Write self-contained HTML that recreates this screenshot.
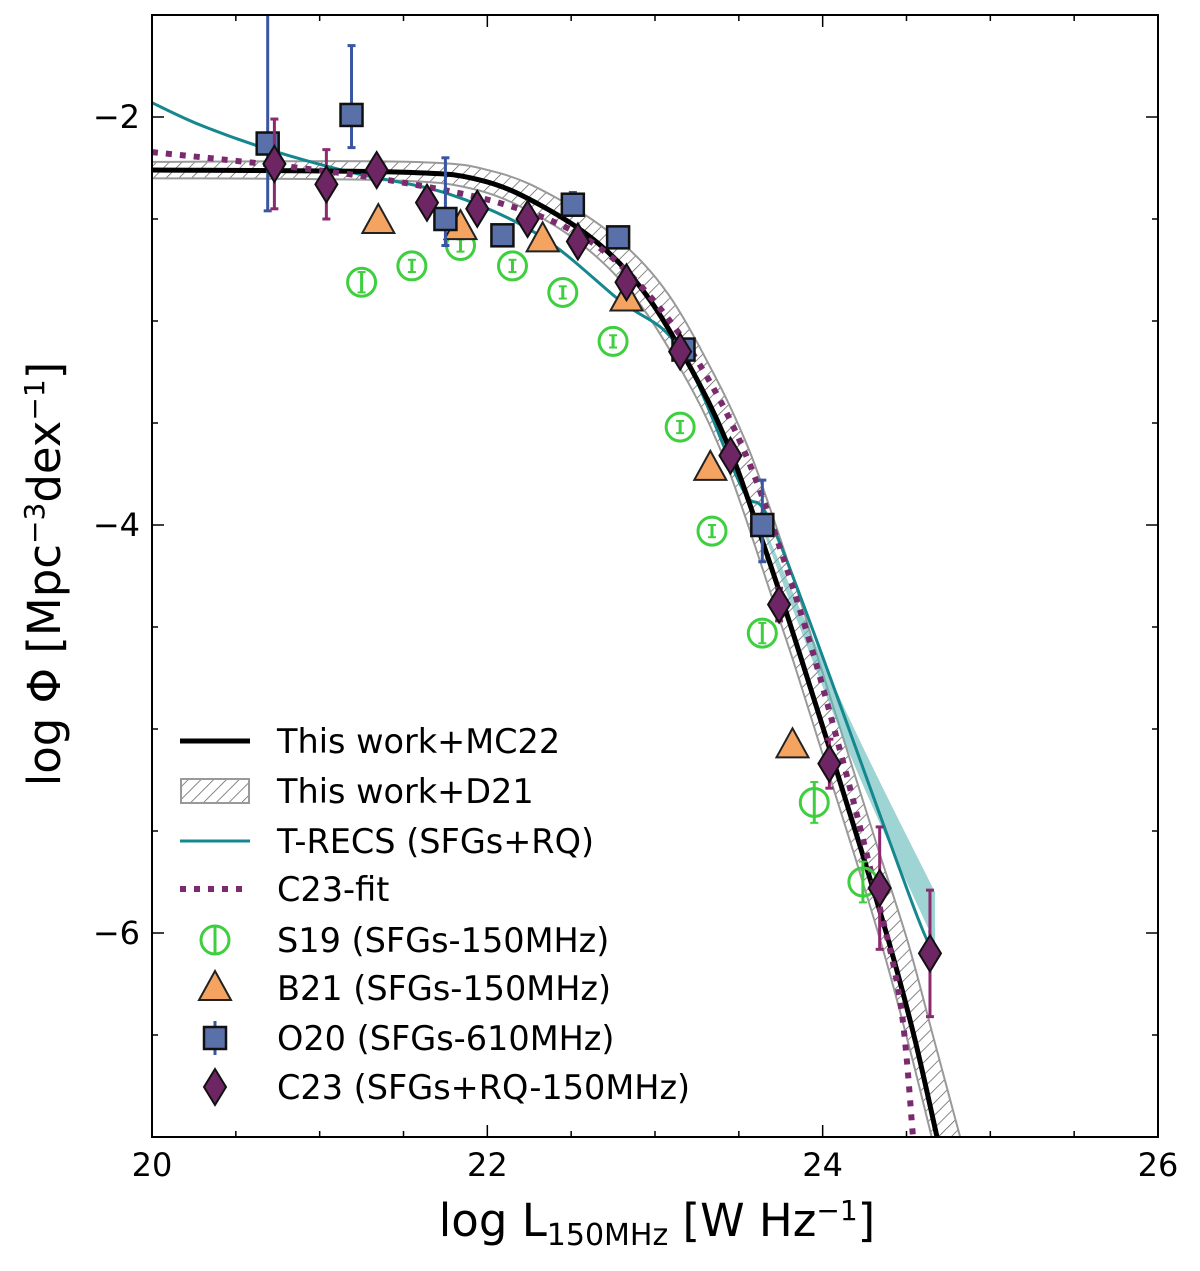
<!DOCTYPE html>
<html><head><meta charset="utf-8"><style>
body{margin:0;background:#fff}
svg text{font-family:"DejaVu Sans","Liberation Sans",sans-serif;fill:#000}
</style></head><body>
<svg id="chart" width="1200" height="1266" viewBox="0 0 1200 1266" xmlns="http://www.w3.org/2000/svg">
<defs>
<pattern id="hatch" patternUnits="userSpaceOnUse" width="9" height="9" patternTransform="rotate(45)">
<line x1="0" y1="0" x2="0" y2="9" stroke="#555" stroke-width="1.4"/>
</pattern>
<clipPath id="plotclip"><rect x="152" y="15" width="1006" height="1122"/></clipPath>
</defs>
<g id="plot" clip-path="url(#plotclip)"></g>
<g id="axes"></g>
<g id="legend"></g>
</svg>
<script>
const s19X=[21.25,21.55,21.84,22.15,22.45,22.75,23.15,23.34,23.64,23.95,24.24];
const s19Y=[-2.81,-2.73,-2.63,-2.73,-2.86,-3.10,-3.52,-4.03,-4.53,-5.36,-5.75];
const s19E=[0.05,0.03,0.03,0.03,0.03,0.03,0.03,0.03,0.05,0.1,0.1];
const b21X=[21.35,21.84,22.33,22.83,23.33,23.82];
const b21Y=[-2.51,-2.54,-2.60,-2.89,-3.72,-5.08];
const o20X=[20.69,21.19,21.75,22.09,22.51,22.78,23.17,23.64];
const o20Y=[-2.13,-1.99,-2.50,-2.58,-2.43,-2.59,-3.14,-4.0];
const o20Up=[0.8,0.34,0.3,0.05,0.06,0.03,0.04,0.22];
const o20Dn=[0.33,0.16,0.13,0.05,0.04,0.03,0.04,0.18];
const c23X=[20.73,21.04,21.34,21.64,21.94,22.24,22.54,22.83,23.15,23.45,23.74,24.04,24.34,24.64];
const c23Y=[-2.23,-2.33,-2.26,-2.42,-2.45,-2.50,-2.61,-2.81,-3.15,-3.66,-4.39,-5.17,-5.78,-6.10];
const c23E=[0.22,0.17,0.05,0.05,0.04,0.04,0.04,0.04,0.05,0.06,0.08,0.12,0.3,0.31];
const mcX=[20,21.479,21.956,22.314,22.672,22.970,23.268,23.447,23.567,23.739,23.865,24.044,24.223,24.402,24.551,24.682];
const mcY=[-2.26,-2.27,-2.309,-2.431,-2.627,-2.897,-3.314,-3.632,-3.902,-4.319,-4.637,-5.103,-5.574,-6.064,-6.525,-7.0];
const d21UpX=[20,21.55,22.05,22.42,22.78,23.08,23.37,23.55,23.67,23.84,23.96,24.14,24.32,24.51,24.66,24.82];
const d21UpY=[-2.22,-2.22,-2.27,-2.40,-2.60,-2.87,-3.29,-3.61,-3.88,-4.30,-4.62,-5.09,-5.56,-6.05,-6.51,-7.0];
const d21LoX=[20,21.4,21.9,22.27,22.63,22.93,23.23,23.41,23.53,23.70,23.83,24.01,24.19,24.37,24.52,24.65];
const d21LoY=[-2.30,-2.31,-2.35,-2.47,-2.67,-2.94,-3.35,-3.67,-3.94,-4.36,-4.68,-5.15,-5.62,-6.11,-6.57,-7.0];
const trX=[20,20.29,20.70,21.18,21.78,22.31,22.79,23.15,23.52,23.75,24.56,24.64];
const trY=[-1.93,-2.04,-2.16,-2.27,-2.38,-2.58,-2.90,-3.14,-3.82,-4.10,-5.91,-5.99];
const trBX=[23.63,24.16,24.67];
const trBUp=[-3.97,-4.95,-5.80];
const trBLo=[-4.00,-5.12,-6.05];
const fitX=[20,20.883,21.479,22.076,22.553,22.911,23.268,23.567,23.865,24.103,24.300,24.461,24.539];
const fitY=[-2.172,-2.25,-2.319,-2.422,-2.578,-2.824,-3.216,-3.706,-4.417,-5.103,-5.74,-6.328,-7.0];
const xTicks=[20,22,24,26];
const yTicks=[-2,-4,-6];

const NS="http://www.w3.org/2000/svg";
const X0=152,X1=1158,Y0=15,Y1=1137;
const sx=v=>X0+(v-20)/6*(X1-X0);
const sy=v=>117+(-2-v)*204;
function mk(tag,attrs,parent){const e=document.createElementNS(NS,tag);for(const k in attrs)e.setAttribute(k,attrs[k]);parent.appendChild(e);return e;}
const plot=document.getElementById('plot'),axes=document.getElementById('axes'),leg=document.getElementById('legend');
function smooth(xs,ys,cont){const p=xs.map((x,i)=>[sx(x),sy(ys[i])]);let d=(cont?'L':'M')+p[0][0]+','+p[0][1];
 for(let i=0;i<p.length-1;i++){const p0=p[Math.max(0,i-1)],p1=p[i],p2=p[i+1],p3=p[Math.min(p.length-1,i+2)];
  const c1=[p1[0]+(p2[0]-p0[0])/6,p1[1]+(p2[1]-p0[1])/6],c2=[p2[0]-(p3[0]-p1[0])/6,p2[1]-(p3[1]-p1[1])/6];
  d+=' C'+c1[0]+','+c1[1]+' '+c2[0]+','+c2[1]+' '+p2[0]+','+p2[1];}
 return d;}
const rev=a=>a.slice().reverse();

let band=mk('path',{d:smooth(d21UpX,d21UpY)+' '+smooth(rev(d21LoX),rev(d21LoY),true)+'Z',fill:'url(#hatch)',stroke:'#999','stroke-width':2},plot);


let tb=mk('path',{d:smooth(trBX,trBUp)+' '+smooth(rev(trBX),rev(trBLo),true)+'Z',fill:'#5fb8b8','fill-opacity':0.6,stroke:'none'},plot);


let tl=mk('path',{d:smooth(trX,trY),fill:'none',stroke:'#15878f','stroke-width':3},plot);


let ml=mk('path',{d:smooth(mcX,mcY),fill:'none',stroke:'#000','stroke-width':5},plot);


let fl=mk('path',{d:smooth(fitX,fitY),fill:'none',stroke:'#7b2a6e','stroke-width':6,'stroke-dasharray':'6,8'},plot);



s19X.forEach((x,i)=>{const cx=sx(x),cy=sy(s19Y[i]);
 const g=mk('g',{},plot);
 
 
 mk('circle',{cx,cy,r:14,fill:'none',stroke:'#3ecf3e','stroke-width':3},g);
 const e=s19E[i]*204;
 mk('line',{x1:cx,x2:cx,y1:cy-e,y2:cy+e,stroke:'#3ecf3e','stroke-width':3},g);
 mk('line',{x1:cx-4,x2:cx+4,y1:cy-e,y2:cy-e,stroke:'#3ecf3e','stroke-width':2},g);
 mk('line',{x1:cx-4,x2:cx+4,y1:cy+e,y2:cy+e,stroke:'#3ecf3e','stroke-width':2},g);
});
b21X.forEach((x,i)=>{const cx=sx(x),cy=sy(b21Y[i]);
 const t=mk('polygon',{points:`${cx},${cy-17} ${cx-16},${cy+12} ${cx+16},${cy+12}`,fill:'#f4a460',stroke:'#222','stroke-width':2},plot);
 
 
});
o20X.forEach((x,i)=>{const cx=sx(x),cy=sy(o20Y[i]);
 const g=mk('g',{},plot);
 
 
 const u=o20Up[i]*204,d=o20Dn[i]*204;
 mk('line',{x1:cx,x2:cx,y1:cy-u,y2:cy+d,stroke:'#3a56a0','stroke-width':3},g);
 mk('line',{x1:cx-4,x2:cx+4,y1:cy-u,y2:cy-u,stroke:'#3a56a0','stroke-width':3},g);
 mk('line',{x1:cx-4,x2:cx+4,y1:cy+d,y2:cy+d,stroke:'#3a56a0','stroke-width':3},g);
 mk('rect',{x:cx-11,y:cy-11,width:22,height:22,fill:'#5a70a8',stroke:'#111','stroke-width':2.5},g);
});
c23X.forEach((x,i)=>{const cx=sx(x),cy=sy(c23Y[i]);
 const g=mk('g',{},plot);
 
 
 const e=c23E[i]*204;
 mk('line',{x1:cx,x2:cx,y1:cy-e,y2:cy+e,stroke:'#8b2a6e','stroke-width':3},g);
 mk('line',{x1:cx-4,x2:cx+4,y1:cy-e,y2:cy-e,stroke:'#8b2a6e','stroke-width':3},g);
 mk('line',{x1:cx-4,x2:cx+4,y1:cy+e,y2:cy+e,stroke:'#8b2a6e','stroke-width':3},g);
 mk('polygon',{points:`${cx},${cy-18} ${cx+11},${cy} ${cx},${cy+18} ${cx-11},${cy}`,fill:'#6e2563',stroke:'#111','stroke-width':2},g);
});

const fr=mk('rect',{x:X0,y:Y0,width:X1-X0,height:Y1-Y0,fill:'none',stroke:'#000','stroke-width':2},axes);


for(let v=20;v<=26.001;v+=0.5){const x=sx(v),L=(Math.abs(v-Math.round(v/2)*2)<1e-6)?12:6;
 mk('line',{x1:x,x2:x,y1:Y1,y2:Y1-L,stroke:'#000','stroke-width':1.5},axes);
 mk('line',{x1:x,x2:x,y1:Y0,y2:Y0+L,stroke:'#000','stroke-width':1.5},axes);}
for(let v=-1.5;v>=-7.001;v-=0.5){const y=sy(v),L=(Math.abs(v-Math.round(v/2)*2)<1e-6)?12:6;
 mk('line',{x1:X0,x2:X0+L,y1:y,y2:y,stroke:'#000','stroke-width':1.5},axes);
 mk('line',{x1:X1,x2:X1-L,y1:y,y2:y,stroke:'#000','stroke-width':1.5},axes);}
xTicks.forEach(v=>{const t=mk('text',{x:sx(v),y:1176,'font-size':32,'text-anchor':'middle'},axes);t.textContent=v;
 
 });
yTicks.forEach(v=>{const t=mk('text',{x:140,y:sy(v)+11,'font-size':32,'text-anchor':'end'},axes);t.textContent='\u2212'+Math.abs(v);
 
 });
const xl=mk('text',{x:657,y:1236,'font-size':45,'text-anchor':'middle'},axes);
xl.innerHTML='log L<tspan font-size="30" dy="9">150MHz</tspan><tspan dy="-9"> [W Hz</tspan><tspan font-size="28" dy="-16">−1</tspan><tspan dy="16">]</tspan>';


const yl=mk('text',{x:0,y:0,'font-size':45,'text-anchor':'middle',transform:'translate(60,574) rotate(-90)'},axes);
yl.innerHTML='log Φ [Mpc<tspan font-size="28" dy="-16">−3</tspan><tspan dy="16">dex</tspan><tspan font-size="28" dy="-16">−1</tspan><tspan dy="16">]</tspan>';



const labels=['This work+MC22','This work+D21','T-RECS (SFGs+RQ)','C23-fit','S19 (SFGs-150MHz)','B21 (SFGs-150MHz)','O20 (SFGs-610MHz)','C23 (SFGs+RQ-150MHz)'];
const rows=[741,791,841,889,940,988,1038,1087];
labels.forEach((lab,i)=>{const y=rows[i];const g=mk('g',{},leg);
 
 
 if(i==0)mk('line',{x1:180,x2:250,y1:y,y2:y,stroke:'#000','stroke-width':5},g);
 if(i==1)mk('rect',{x:181,y:y-12,width:68,height:24,fill:'url(#hatch)',stroke:'#999','stroke-width':2},g);
 if(i==2)mk('line',{x1:180,x2:250,y1:y,y2:y,stroke:'#15878f','stroke-width':3},g);
 if(i==3)mk('line',{x1:180,x2:250,y1:y,y2:y,stroke:'#7b2a6e','stroke-width':6,'stroke-dasharray':'6,8'},g);
 const cx=215;
 if(i==4){mk('circle',{cx,cy:y,r:14,fill:'none',stroke:'#3ecf3e','stroke-width':3},g);mk('line',{x1:cx,x2:cx,y1:y-14,y2:y+14,stroke:'#3ecf3e','stroke-width':3},g);}
 if(i==5)mk('polygon',{points:`${cx},${y-17} ${cx-16},${y+12} ${cx+16},${y+12}`,fill:'#f4a460',stroke:'#222','stroke-width':2},g);
 if(i==6){mk('line',{x1:cx,x2:cx,y1:y-17,y2:y+17,stroke:'#3a56a0','stroke-width':3},g);mk('rect',{x:cx-11,y:y-11,width:22,height:22,fill:'#5a70a8',stroke:'#111','stroke-width':2.5},g);}
 if(i==7)mk('polygon',{points:`${cx},${y-18} ${cx+11},${y} ${cx},${y+18} ${cx-11},${y}`,fill:'#6e2563',stroke:'#111','stroke-width':2},g);
 const t=mk('text',{x:277,y:y+12,'font-size':33.5},g);t.textContent=lab;
});
</script>
</body></html>
